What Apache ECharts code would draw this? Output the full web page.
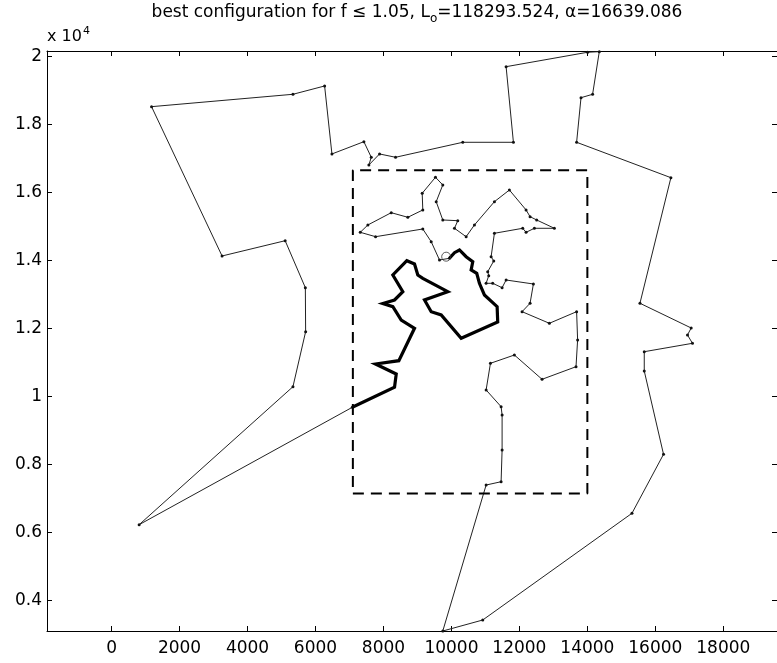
<!DOCTYPE html>
<html><head><meta charset="utf-8">
<script src="https://cdn.jsdelivr.net/npm/echarts@6/dist/echarts.min.js"></script>
<style>html,body{margin:0;padding:0;background:#fff}#c{width:777px;height:663px}</style>
</head><body><div id="c"></div>
<script>
// thin tour (city coordinates), in drawing order
const tourX = [7083, 811, 5337, 5710, 5702, 5108, 3251, 1176, 5337, 6269, 6484, 7424, 7641, 7571, 7885, 8356,
  10334, 11824, 11609, 14007, 14351, 14154, 13813, 13684, 16458, 15547, 17055, 16946, 17093, 15674, 15674, 16241,
  15312, 10921, 9746, 11021, 11462, 11491, 11491, 11462, 11021, 11148, 11853, 12667, 13666, 13713, 13684, 12882,
  12079, 12314, 12412, 11609, 11491, 11215, 11021, 11098, 11068, 11245, 11168, 11265, 12097, 12197, 12441, 13029,
  12508, 12314, 12197, 11706, 11265, 10677, 10433, 10090, 10187, 9746, 9552, 9746, 9531, 9140, 9158, 8717,
  8229, 7541, 7318, 7768, 9158, 9405, 9649, 9943];
const tourY = [9684, 6234, 10289, 11906, 13199, 14580, 14131, 18519, 18883, 19127, 17129, 17490, 17032, 16805, 17129, 17032,
  17472, 17472, 19694, 20118, 20135, 18883, 18783, 17472, 16432, 12741, 12015, 11809, 11565, 11318, 10751, 8303,
  6569, 3433, 3110, 7400, 7497, 8429, 9458, 9702, 10193, 10977, 11221, 10507, 10877, 11662, 12494, 12153,
  12494, 12741, 13308, 13425, 13199, 13328, 13328, 13552, 13669, 13984, 14110, 14798, 14945, 14827, 14945, 14945,
  15189, 15286, 15483, 16070, 15727, 15042, 14698, 14945, 15168, 15189, 15727, 16218, 16444, 15974, 15483, 15268,
  15403, 15042, 14827, 14698, 14924, 14551, 14013, 14063];
// best (thick) path
const bestX = [9943, 10090, 10237, 10433, 10628, 10580, 10745, 10824, 10971, 11345, 11362, 10287, 9699, 9405, 9208, 9893,
  9158, 9011, 8914, 8688, 8276, 8570, 8326, 7982, 8276, 8523, 8914, 8453, 7768, 8376, 8326, 7083];
const bestY = [14063, 14228, 14307, 14110, 13963, 13719, 13622, 13328, 12985, 12641, 12191, 11712, 12397, 12494, 12838, 13082,
  13475, 13572, 13896, 13993, 13572, 13082, 12838, 12735, 12641, 12250, 12006, 11054, 10957, 10663, 10272, 9684];
// dashed region
const boxX = [7100, 14000, 14000, 7100, 7100];
const boxY = [7150, 7150, 16650, 16650, 7150];
const startX = [9846];
const startY = [14110];
// ticks
const xTicks = [0, 2000, 4000, 6000, 8000, 10000, 12000, 14000, 16000, 18000];
const xTickLabels = ['0', '2000', '4000', '6000', '8000', '10000', '12000', '14000', '16000', '18000'];
const yTicks = [4000, 6000, 8000, 10000, 12000, 14000, 16000, 18000, 20000];
const yTickLabels = ['0.4', '0.6', '0.8', '1', '1.2', '1.4', '1.6', '1.8', '2'];
const titleMain1 = 'best configuration for f \u2264 1.05, L';
const titleSub = 'o';
const titleMain2 = '=118293.524, \u03b1=16639.086';

const zip = (a, b) => a.map((v, i) => [v, b[i]]);
const FONT = 'DejaVu Sans';
const axisCommon = {
  type: 'value', min: -1900, max: 19580,
  axisLine: { show: true, onZero: false, lineStyle: { color: '#000', width: 1 } },
  splitLine: { show: false }
};
const yCommon = {
  type: 'value', min: 3110, max: 20155,
  axisLine: { show: true, onZero: false, lineStyle: { color: '#000', width: 1 } },
  splitLine: { show: false }
};
const chart = echarts.init(document.getElementById('c'), null, { renderer: 'canvas' });
chart.setOption({
  animation: false,
  backgroundColor: '#fff',
  grid: { left: 47, right: -1, top: 51, bottom: 32, containLabel: false },
  xAxis: [
    Object.assign({}, axisCommon, {
      position: 'bottom',
      axisTick: { inside: true, length: 5, customValues: xTicks, lineStyle: { color: '#000' } },
      axisLabel: { customValues: xTicks, fontFamily: FONT, fontSize: 17, color: '#000', margin: 9,
        formatter: v => xTickLabels[xTicks.indexOf(v)] }
    }),
    Object.assign({}, axisCommon, {
      position: 'top',
      axisTick: { inside: true, length: 5, customValues: xTicks, lineStyle: { color: '#000' } },
      axisLabel: { show: false }
    })
  ],
  yAxis: [
    Object.assign({}, yCommon, {
      position: 'left',
      axisTick: { inside: true, length: 5, customValues: yTicks, lineStyle: { color: '#000' } },
      axisLabel: { customValues: yTicks, fontFamily: FONT, fontSize: 17, color: '#000', margin: 5,
        formatter: v => yTickLabels[yTicks.indexOf(v)] }
    }),
    Object.assign({}, yCommon, {
      position: 'right',
      axisTick: { inside: true, length: 5, customValues: yTicks, lineStyle: { color: '#000' } },
      axisLabel: { show: false }
    })
  ],
  graphic: [
    { type: 'text', x: 417, y: 13, style: {
        text: '{a|' + titleMain1 + '}{s|' + titleSub + '}{a|' + titleMain2 + '}',
        align: 'center', verticalAlign: 'middle',
        rich: { a: { fontFamily: FONT, fontSize: 17, fill: '#000', verticalAlign: 'middle' },
                s: { fontFamily: FONT, fontSize: 12, fill: '#000', verticalAlign: 'bottom', padding: [12, 0, 0, 0] } } } },
    { type: 'text', x: 47, y: 37, style: {
        text: '{a|x 10}{p|4}', align: 'left', verticalAlign: 'middle',
        rich: { a: { fontFamily: FONT, fontSize: 16, fill: '#000', verticalAlign: 'middle' },
                p: { fontFamily: FONT, fontSize: 11, fill: '#000', verticalAlign: 'top', padding: [0, 0, 12, 1] } } } }
  ],
  series: [
    { type: 'line', data: zip(tourX, tourY), symbol: 'circle', symbolSize: 3, showSymbol: true,
      itemStyle: { color: '#111' }, lineStyle: { color: '#222', width: 1 }, z: 2 },
    { type: 'line', data: zip(bestX, bestY), symbol: 'none',
      lineStyle: { color: '#000', width: 3.2, join: 'miter' }, z: 3 },
    { type: 'line', data: zip(boxX, boxY), symbol: 'none',
      lineStyle: { color: '#000', width: 2, type: [11, 7] }, z: 4 },
    { type: 'scatter', data: zip(startX, startY), symbol: 'circle', symbolSize: 9,
      itemStyle: { color: 'rgba(0,0,0,0)', borderColor: '#333', borderWidth: 1 }, z: 5 }
  ]
});
</script></body></html>
